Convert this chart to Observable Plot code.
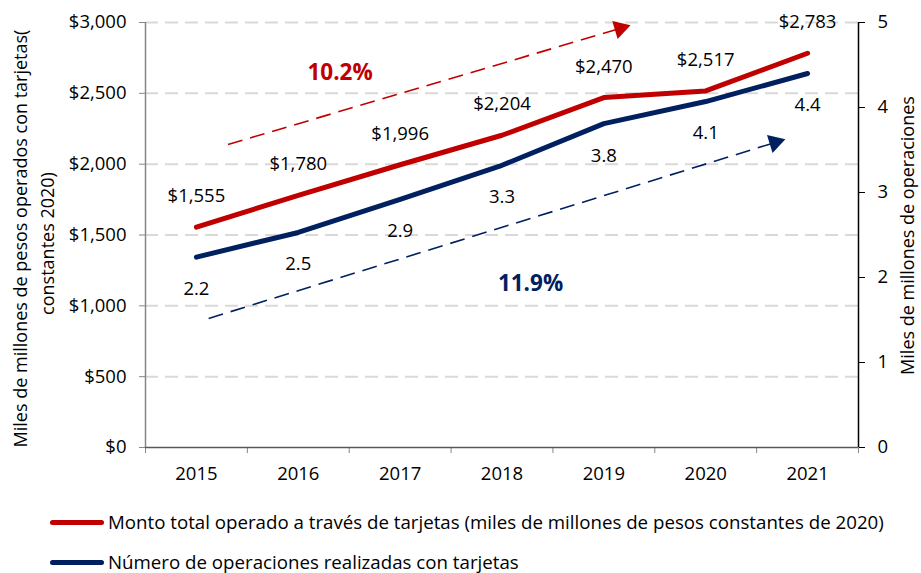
<!DOCTYPE html>
<html>
<head>
<meta charset="utf-8">
<script src="https://cdn.jsdelivr.net/npm/d3@7"></script>
<script src="https://cdn.jsdelivr.net/npm/@observablehq/plot@0.6"></script>
<style>
  body { margin: 0; background: #fff; font-family: "Open Sans", sans-serif; }
  #chart { width: 921px; height: 573px; position: relative; overflow: hidden; }
  .legend { position: absolute; left: 50px; font-size: 18.7px; line-height: 22px; color: #000; display: flex; align-items: center; white-space: nowrap; transform: translateY(-50%); }
  .legend .sw { width: 54px; height: 5px; border-radius: 3px; margin-right: 4px; }
</style>
</head>
<body>
<div id="chart"></div>
<script>
// ---- data ----
const years = [2015, 2016, 2017, 2018, 2019, 2020, 2021];
const monto = [1555, 1780, 1996, 2204, 2470, 2517, 2783];          // miles de millones de pesos (2020)
const operaciones = [2.24, 2.53, 2.92, 3.32, 3.81, 4.07, 4.40];     // miles de millones de operaciones
const leftTicks = [0, 500, 1000, 1500, 2000, 2500, 3000];
const rightTicks = [0, 1, 2, 3, 4, 5];
const tasaMonto = "10.2%";
const tasaOper = "11.9%";
const legendLabels = [
  "Monto total operado a través de tarjetas (miles de millones de pesos constantes de 2020)",
  "Número de operaciones realizadas con tarjetas"
];
const leftTitle1 = "Miles de millones de pesos operados con tarjetas(";
const leftTitle2 = "constantes 2020)";
const rightTitle = "Miles de millones de operaciones";
// annotation arrows (in data units: year, pesos)
const arrowMonto = [{x1: 2015.31, y1: 2139, x2: 2019.16, y2: 2958}];
const arrowOper = [{x1: 2015.12, y1: 911, x2: 2020.68, y2: 2153}];
const rateLabels = [
  {x: 2016.41, y: 2647, text: tasaMonto, color: "#C00000"},
  {x: 2018.28, y: 1158, text: tasaOper, color: "#002060"}
];

const RED = "#C00000", NAVY = "#002060";
const factor = 3000 / 5; // secondary axis
const fmtMoney = d => "$" + d3.format(",")(d);
const rows = years.map((y, i) => ({year: y, monto: monto[i], oper: operaciones[i], operScaled: operaciones[i] * factor}));

const W = 921, H = 500;
const font = "'Open Sans', sans-serif";
const FS = 18.5;

const plot = Plot.plot({
  width: W, height: H,
  marginLeft: 145, marginRight: 63, marginTop: 22, marginBottom: 53,
  style: {fontFamily: font, fontSize: FS + "px", color: "#000", background: "#fff", overflow: "visible"},
  x: {domain: [2014.5, 2021.5], axis: null},
  y: {domain: [0, 3000], axis: null},
  marks: [
    Plot.gridY(leftTicks.filter(d => d > 0), {stroke: "#d9d9d9", strokeOpacity: 1, strokeWidth: 2, strokeDasharray: "13,7"}),
    // axes
    Plot.axisY(leftTicks, {tickFormat: fmtMoney, tickSize: 6, tickPadding: 13, label: null, stroke: "#868686", fontSize: FS}),
    Plot.axisY(rightTicks.map(d => d * factor), {anchor: "right", tickFormat: d => d / factor, tickSize: 6, tickPadding: 13, label: null, stroke: "#000", fontSize: FS}),
    Plot.axisX(years, {tickFormat: d => String(d), tickSize: 0, tickPadding: 19, label: null, fontSize: FS}),
    Plot.axisX(d3.range(2014.5, 2022, 1), {tickFormat: () => "", tickSize: 6, label: null, stroke: "#868686"}),
    Plot.ruleX([2014.5], {stroke: "#868686", strokeWidth: 1.5}),
    Plot.ruleX([2021.5], {stroke: "#000", strokeWidth: 1.5}),
    Plot.ruleY([0], {stroke: "#595959", strokeWidth: 1.5}),
    // axis titles
    Plot.text([leftTitle1], {frameAnchor: "left", textAnchor: "middle", rotate: -90, dx: -124, dy: 3.5, fontSize: 18, fill: "#000"}),
    Plot.text([leftTitle2], {frameAnchor: "left", textAnchor: "middle", rotate: -90, dx: -97, dy: 8.5, fontSize: 18, fill: "#000"}),
    Plot.text([rightTitle], {frameAnchor: "right", textAnchor: "middle", rotate: -90, dx: 50, dy: 0.5, fontSize: 18, fill: "#000"}),
    // arrows
    Plot.link(arrowMonto, {x1: "x1", y1: "y1", x2: "x2", y2: "y2", stroke: RED, strokeWidth: 1.6, strokeDasharray: "15,8"}),
    Plot.dot(arrowMonto, {x: "x2", y: "y2", symbol: "triangle", r: 7, fill: RED, stroke: "none", rotate: 73.5}),
    Plot.link(arrowOper, {x1: "x1", y1: "y1", x2: "x2", y2: "y2", stroke: NAVY, strokeWidth: 1.6, strokeDasharray: "15,8"}),
    Plot.dot(arrowOper, {x: "x2", y: "y2", symbol: "triangle", r: 7, fill: NAVY, stroke: "none", rotate: 72.8}),
    Plot.text(rateLabels, {x: "x", y: "y", text: "text", fill: "color", fontSize: 22.5, fontWeight: "bold"}),
    // lines
    Plot.line(rows, {x: "year", y: "monto", stroke: RED, strokeWidth: 5, strokeLinejoin: "round", strokeLinecap: "round"}),
    Plot.line(rows, {x: "year", y: "operScaled", stroke: NAVY, strokeWidth: 5, strokeLinejoin: "round", strokeLinecap: "round"}),
    // data labels
    Plot.text(rows, {x: "year", y: "monto", text: d => fmtMoney(d.monto), dy: -31, fontSize: FS, fill: "#000"}),
    Plot.text(rows, {x: "year", y: "operScaled", text: d => d3.format(".1f")(d.oper), dy: 32, fontSize: FS, fill: "#000"})
  ]
});

const chart = document.getElementById("chart");
chart.appendChild(plot);

// legend
const colors = [RED, NAVY];
const tops = [522, 562];
legendLabels.forEach((t, i) => {
  const div = document.createElement("div");
  div.className = "legend";
  div.style.top = tops[i] + "px";
  div.innerHTML = `<span class="sw" style="background:${colors[i]}"></span><span>${t}</span>`;
  chart.appendChild(div);
});
</script>
</body>
</html>
